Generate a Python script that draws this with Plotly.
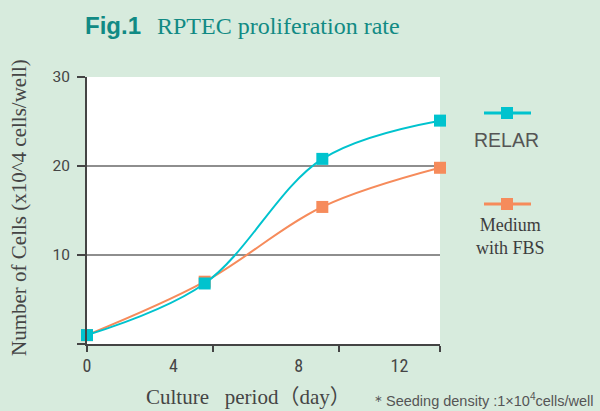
import plotly.graph_objects as go

# ---- data ----
days = [0, 4, 8, 12]
relar = [1.0, 6.8, 20.8, 25.1]
fbs = [1.0, 7.0, 15.4, 19.8]
series_names = ["RELAR", "Medium with FBS"]
y_tickvals = [10, 20, 30]
y_ticktext = ["10", "20", "30"]
y_tickmark_pos = [0, 10, 20, 30]
x_label_pos = [0, 2.94, 7.2, 10.62]
x_label_text = ["0", "4", "8", "12"]
x_tickmark_pos = [0, 4.28, 8.56, 12]

BLUE = "#00C3CE"
ORANGE = "#F68B5B"
BG = "#D7EBDD"
TEAL = "#118A84"
TXT = "#454545"

W, H = 600, 411
L, R, T, B = 87, 160, 77, 67
PW, PH = W - L - R, H - T - B


def px(x):
    return (x - L) / PW


def py(y):
    return (H - B - y) / PH


fig = go.Figure()
fig.add_trace(go.Scatter(x=days, y=fbs, mode="lines+markers", name=series_names[1],
                         line=dict(color=ORANGE, width=2, shape="spline", smoothing=1.0),
                         marker=dict(symbol="square", size=12, color=ORANGE),
                         cliponaxis=False, showlegend=False))
fig.add_trace(go.Scatter(x=days, y=relar, mode="lines+markers", name=series_names[0],
                         line=dict(color=BLUE, width=2, shape="spline", smoothing=1.0),
                         marker=dict(symbol="square", size=12, color=BLUE),
                         cliponaxis=False, showlegend=False))

fig.update_layout(
    width=W, height=H,
    margin=dict(l=L, r=R, t=T, b=B),
    paper_bgcolor=BG, plot_bgcolor="white",
    xaxis=dict(range=[0, 12], tickmode="array", tickvals=x_label_pos, ticktext=x_label_text,
               ticks="", showgrid=False, zeroline=False, showline=True, linecolor="#444",
               linewidth=2, tickfont=dict(family="Roboto Condensed, Liberation Sans Narrow, Roboto",
                                          size=18, color=TXT),
               ticklabelstandoff=4,
               minor=dict(tickmode="array", tickvals=x_tickmark_pos, ticks="outside", ticklen=6,
                          tickwidth=2, tickcolor="#444", showgrid=False)),
    yaxis=dict(range=[0, 30], tickmode="array", tickvals=y_tickvals, ticktext=y_ticktext,
               ticks="outside", ticklen=8, tickwidth=1.5, tickcolor="#444",
               showgrid=True, gridcolor="#8E8E8E", gridwidth=1.5, zeroline=False,
               showline=True, linecolor="#444", linewidth=2,
               tickfont=dict(family="Roboto", size=15.5, color=TXT), ticklabelstandoff=4,
               minor=dict(tickmode="array", tickvals=y_tickmark_pos, ticks="outside", ticklen=8,
                          tickwidth=1.5, tickcolor="#444", showgrid=False)),
)

ann = []
# title
ann.append(dict(text="<b>Fig.1</b>", x=px(83), y=py(26), xref="paper", yref="paper",
                xanchor="left", yanchor="middle", showarrow=False,
                font=dict(family="Liberation Sans, Arial", size=24, color=TEAL)))
ann.append(dict(text="RPTEC proliferation rate", x=px(155), y=py(26), xref="paper", yref="paper",
                xanchor="left", yanchor="middle", showarrow=False,
                font=dict(family="Liberation Serif, Times New Roman", size=24, color=TEAL)))
# axis titles
ann.append(dict(text="Number of Cells (x10^4 cells/well)", x=px(19), y=py(208), xref="paper",
                yref="paper", xanchor="center", yanchor="middle", textangle=-90, showarrow=False,
                font=dict(family="Liberation Serif", size=21, color=TXT)))
ann.append(dict(text="Culture\u2002 period\uFF08day\uFF09", x=px(144), y=py(397), xref="paper",
                yref="paper", xanchor="left", yanchor="middle", showarrow=False,
                font=dict(family="Liberation Serif, Noto Sans CJK JP", size=21, color=TXT)))
ann.append(dict(text="\uFF0ASeeding density :1\u00D710<sup>4</sup>cells/well", x=px(369), y=py(400),
                xref="paper", yref="paper", xanchor="left", yanchor="middle", showarrow=False,
                font=dict(family="Liberation Sans, Arial", size=14.5, color="#555")))
# legend
ann.append(dict(text="RELAR", x=px(507), y=py(140), xref="paper", yref="paper",
                xanchor="center", yanchor="middle", showarrow=False,
                font=dict(family="Liberation Sans, Arial", size=19.5, color="#555")))
ann.append(dict(text="Medium<br>with FBS", x=px(510), y=py(236), xref="paper", yref="paper",
                xanchor="center", yanchor="middle", showarrow=False,
                font=dict(family="Liberation Serif", size=18, color="#3d3d3d")))
fig.update_layout(annotations=ann)

shapes = []
for yc, col in [(113, BLUE), (204, ORANGE)]:
    shapes.append(dict(type="line", xref="paper", yref="paper", x0=px(484), x1=px(531),
                       y0=py(yc), y1=py(yc), line=dict(color=col, width=3)))
    shapes.append(dict(type="rect", xref="paper", yref="paper", x0=px(501), x1=px(513),
                       y0=py(yc - 6), y1=py(yc + 6), line=dict(width=0), fillcolor=col))
fig.update_layout(shapes=shapes)

fig.write_html("out.html", config={"displayModeBar": False},
               post_script="document.body.style.margin='0';document.body.style.overflow='hidden';")
